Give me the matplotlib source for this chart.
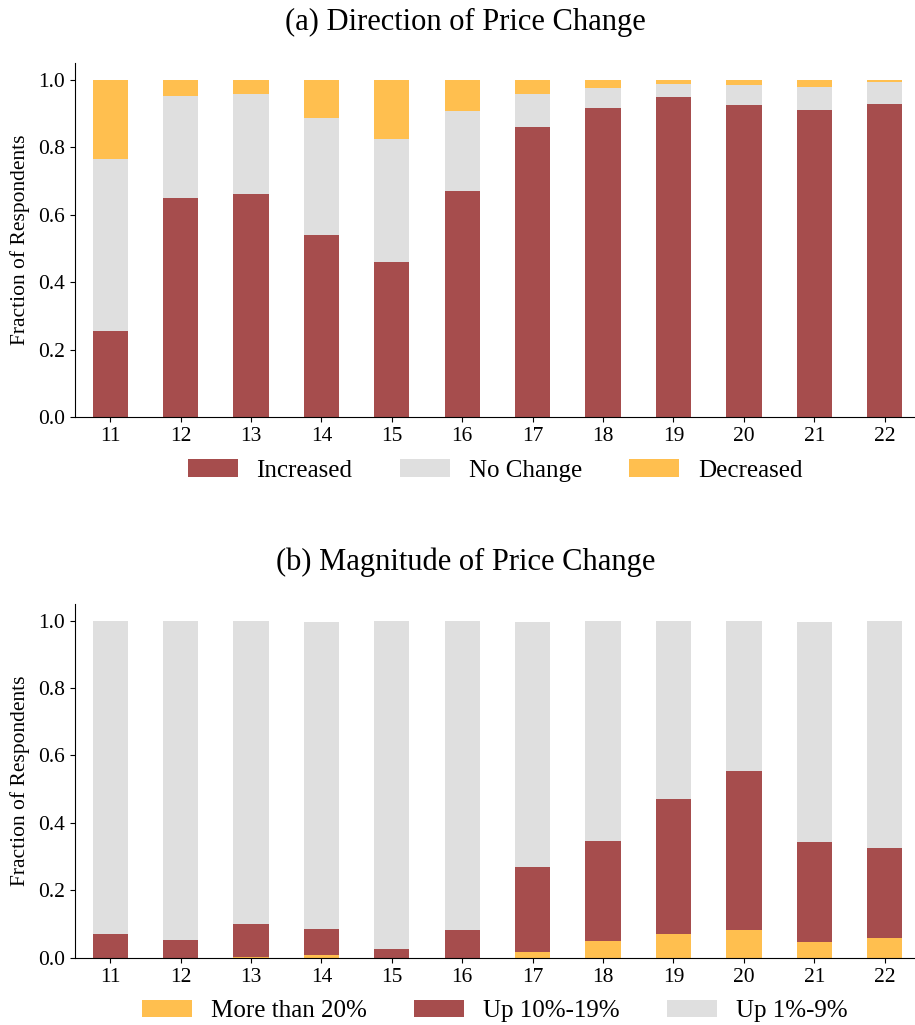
import matplotlib
matplotlib.use('Agg')
import matplotlib.pyplot as plt
import numpy as np

plt.rcParams['font.family'] = ['Liberation Serif', 'DejaVu Serif']

years = ['11', '12', '13', '14', '15', '16', '17', '18', '19', '20', '21', '22']

# (a) direction of price change
increased = [0.256, 0.651, 0.662, 0.540, 0.461, 0.672, 0.859, 0.918, 0.950, 0.927, 0.911, 0.930]
no_change = [0.508, 0.302, 0.297, 0.347, 0.364, 0.236, 0.098, 0.059, 0.039, 0.058, 0.069, 0.065]
decreased = [0.236, 0.047, 0.041, 0.113, 0.175, 0.092, 0.043, 0.023, 0.011, 0.015, 0.020, 0.005]

# (b) magnitude of price change
more_20 = [0.000, 0.000, 0.002, 0.008, 0.000, 0.000, 0.018, 0.050, 0.071, 0.083, 0.047, 0.060]
up_10_19 = [0.071, 0.052, 0.099, 0.078, 0.027, 0.082, 0.252, 0.297, 0.400, 0.470, 0.297, 0.265]
up_1_9 = [0.929, 0.948, 0.899, 0.911, 0.973, 0.918, 0.727, 0.653, 0.529, 0.447, 0.653, 0.675]

red = '#a64d4d'
gray = '#dfdfdf'
yellow = '#ffbf4f'

fig = plt.figure(figsize=(9.15, 10.25), dpi=100)
ax1 = fig.add_axes([0.082, 0.593, 0.918, 0.3455])
ax2 = fig.add_axes([0.082, 0.0655, 0.918, 0.3455])

x = np.arange(len(years))
w = 0.5


def stacked(ax, series, labels, colors, title):
    bottom = np.zeros(len(years))
    for vals, lab, col in zip(series, labels, colors):
        ax.bar(x, vals, w, bottom=bottom, color=col, label=lab, linewidth=0)
        bottom += np.array(vals)
    ax.set_xticks(x)
    ax.set_xticklabels(years)
    ax.set_xlim(-0.5, 11.43)
    ax.set_ylim(0, 1.05)
    ax.set_yticks([0, 0.2, 0.4, 0.6, 0.8, 1.0])
    ax.set_yticklabels(['0.0', '0.2', '0.4', '0.6', '0.8', '1.0'])
    ax.tick_params(labelsize=15.5)
    ax.set_ylabel('Fraction of Respondents', fontsize=15.5, labelpad=6)
    ax.set_title(title, fontsize=22, pad=24, x=0.465)
    for s in ['top', 'right']:
        ax.spines[s].set_visible(False)
    ax.legend(loc='upper center', bbox_to_anchor=(0.5, -0.09), ncol=3, frameon=False,
              fontsize=18, handlelength=2.0, handleheight=0.7, columnspacing=1.9,
              handletextpad=0.75, borderaxespad=0)


stacked(ax1, [increased, no_change, decreased], ['Increased', 'No Change', 'Decreased'],
        [red, gray, yellow], '(a) Direction of Price Change')
stacked(ax2, [more_20, up_10_19, up_1_9], ['More than 20%', 'Up 10%-19%', 'Up 1%-9%'],
        [yellow, red, gray], '(b) Magnitude of Price Change')

fig.savefig('out.png', dpi=100)
